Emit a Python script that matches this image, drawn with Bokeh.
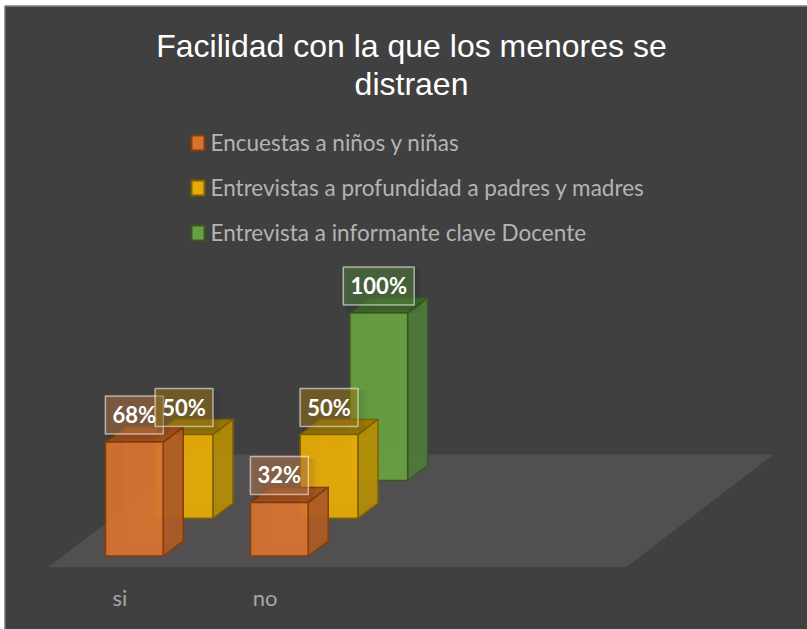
from bokeh.plotting import figure
from bokeh.embed import file_html
from bokeh.resources import INLINE
from bokeh.core.properties import value
from bokeh.models import Range1d

title_lines = ["Facilidad con la que los menores se", "distraen"]
categories = ["si", "no"]
series_names = ["Encuestas a niños y niñas",
                "Entrevistas a profundidad a padres y madres",
                "Entrevista a informante clave Docente"]
encuestas = [0.68, 0.32]
entrevistas = [0.50, 0.50]
docente = [None, 1.00]
series_values = [encuestas, entrevistas, docente]

front = ["#d6732f", "#e6ac06", "#68a042"]
side = ["#ac5a26", "#b48c08", "#50783a"]
top_c = ["#a3521f", "#9a7806", "#3f6a2b"]
edge = ["#843c0c", "#7f6000", "#385723"]
label_fill = ["#be7a4a", "#a67e1a", "#588842"]

W, H, OX, OY = 803, 624, 4, 5
p = figure(width=W, height=H, output_backend="svg", toolbar_location=None,
           x_range=Range1d(OX, OX + W), y_range=Range1d(OY + H, OY),
           min_border=0, outline_line_color=None,
           background_fill_color="#404040", border_fill_color="#404040",
           styles={"position": "absolute", "left": f"{OX}px", "top": f"{OY}px"})
p.axis.visible = False
p.grid.visible = False

# projection
X0, Y0 = 105.0, 555.5
CAT_DX, SER_DX, SER_DY = 145.0, 49.7, -37.7
BAR_W, DEP_X, DEP_Y = 57.7, 20.0, -15.0
PX_PER_UNIT = 167.5
FONT = value("Lato")

# frame + floor
p.line([OX, OX + W], [OY + .5, OY + .5], line_color="#a0a0a0", line_width=1)
p.line([OX + .5, OX + .5], [OY, OY + H], line_color="#8c8c8c", line_width=1)
p.patch([48, 626, 773, 195], [566.5, 566.5, 454, 454],
        fill_color="#514f4f", line_color=None)


def box(cat, ser, v):
    x = X0 + cat * CAT_DX + ser * SER_DX
    yb = Y0 + ser * SER_DY
    yt = yb - v * PX_PER_UNIT
    a = .93
    e = dict(line_color=edge[ser], line_width=1.5, line_join="round")
    p.patch([x + DEP_X, x + BAR_W + DEP_X, x + BAR_W + DEP_X, x + DEP_X],
            [yb + DEP_Y, yb + DEP_Y, yt + DEP_Y, yt + DEP_Y],
            fill_color=front[ser], fill_alpha=.25, line_color=front[ser], line_alpha=.5)
    p.patch([x, x + BAR_W, x + BAR_W + DEP_X, x + DEP_X],
            [yt, yt, yt + DEP_Y, yt + DEP_Y], fill_color=top_c[ser], fill_alpha=a, **e)
    p.patch([x + BAR_W, x + BAR_W + DEP_X, x + BAR_W + DEP_X, x + BAR_W],
            [yt, yt + DEP_Y, yb + DEP_Y, yb], fill_color=side[ser], fill_alpha=a, **e)
    p.patch([x, x + BAR_W, x + BAR_W, x],
            [yt, yt, yb, yb], fill_color=front[ser], fill_alpha=a, **e)


for ser in (2, 1, 0):
    for cat in range(len(categories)):
        v = series_values[ser][cat]
        if v is not None:
            box(cat, ser, v)

for ser in (0, 1, 2):
    for cat in range(len(categories)):
        v = series_values[ser][cat]
        if v is None:
            continue
        x = X0 + cat * CAT_DX + ser * SER_DX + BAR_W / 2
        yb = Y0 + ser * SER_DY - v * PX_PER_UNIT - 8
        hw = 35.5 if v >= 1 else 29
        for g in (8, 5, 2):
            p.quad(left=[x - hw + 2], right=[x + hw + g], bottom=[yb + g], top=[yb - 36],
                   fill_color="#000000", fill_alpha=.04, line_color=None)
        p.quad(left=[x - hw], right=[x + hw], bottom=[yb], top=[yb - 38],
               fill_color=label_fill[ser], fill_alpha=.5, line_color="#ffffff",
               line_alpha=.55, line_width=1.5)
        p.text([x], [yb - 19.5], text=[f"{round(v * 100)}%"], text_color="#ffffff",
               text_font=FONT, text_font_style="bold", text_font_size="22px",
               text_align="center", text_baseline="middle")

# category labels
for i, c in enumerate(categories):
    p.text([X0 + i * CAT_DX + 14.5], [596.5], text=[c], text_color="#a6a6a6",
           text_font=FONT, text_font_size="22px",
           text_align="center", text_baseline="middle")

# title
for i, t in enumerate(title_lines):
    p.text([411], [45 + i * 38.5], text=[t], text_color="#ffffff",
           text_font=value("Liberation Sans"), text_font_size="32px",
           text_align="center", text_baseline="middle")

# legend
for i, s in enumerate(series_names):
    yc = 142.5 + i * 45
    p.quad(left=[191], right=[204], top=[yc - 7.5], bottom=[yc + 7.5],
           fill_color=front[i], line_color=edge[i], line_width=2)
    p.text([210], [yc - 1], text=[s], text_color="#b4b4b4", text_font=FONT,
           text_font_size="22.5px", text_align="left", text_baseline="middle")

open("out.html", "w").write(file_html(p, INLINE))
